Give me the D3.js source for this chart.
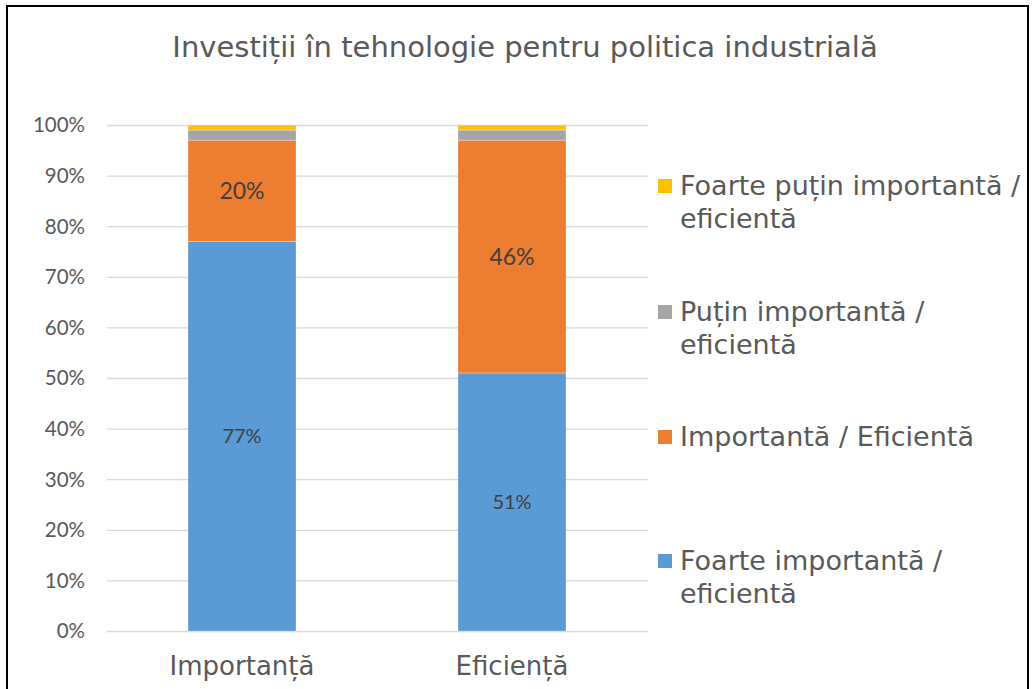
<!DOCTYPE html>
<html>
<head>
<meta charset="utf-8">
<script src="https://cdn.jsdelivr.net/npm/d3@7"></script>
<style>
  html, body { margin: 0; padding: 0; background: #fff; }
  svg { display: block; }
</style>
</head>
<body>
<svg id="chart" width="1032" height="689"></svg>
<script>
// Categories along the x axis
const categories = ["Importanță", "Eficiență"];

// Series values (percent), bottom of the stack first
const foarteImportanta = [77, 51];
const importanta       = [20, 46];
const putinImportanta  = [2, 2];
const foartePutin      = [1, 1];

// Series names as shown in the legend (each entry may wrap onto two lines)
const seriesKeys = ["foarteImportanta", "importanta", "putinImportanta", "foartePutin"];
const seriesLabels = [
  ["Foarte importantă /", "eficientă"],
  ["Importantă / Eficientă"],
  ["Puțin importantă /", "eficientă"],
  ["Foarte puțin importantă /", "eficientă"]
];
const seriesColors = ["#5B9BD5", "#ED7D31", "#A5A5A5", "#FFC000"];

// Which series carry data labels, with their font sizes
const labelSizes = { foarteImportanta: 20, importanta: 23 };

// Y axis tick values (percent)
const yTicks = [0, 10, 20, 30, 40, 50, 60, 70, 80, 90, 100];

const title = "Investiții în tehnologie pentru politica industrială";

// Build rows for the stack layout
const rows = categories.map((c, i) => ({
  category: c,
  foarteImportanta: foarteImportanta[i],
  importanta: importanta[i],
  putinImportanta: putinImportanta[i],
  foartePutin: foartePutin[i]
}));

const svg = d3.select("#chart");
const textColor = "#595959";
const tahomaLike = "'DejaVu Sans', sans-serif";
const calibriLike = "Lato, 'Open Sans', sans-serif";

// Outer frame
svg.append("path")
  .attr("d", "M7,689 V6 H1028 V689")
  .attr("fill", "none")
  .attr("stroke", "#000")
  .attr("stroke-width", 2);

const plot = { left: 107, right: 647, top: 125, bottom: 631 };

const x = d3.scaleBand()
  .domain(categories)
  .range([plot.left, plot.right])
  .paddingInner(0.6)
  .paddingOuter(0.3);

const y = d3.scaleLinear()
  .domain([0, 100])
  .range([plot.bottom, plot.top]);

// Gridlines + y tick labels
const yAxis = d3.axisLeft(y)
  .tickValues(yTicks)
  .tickSize(-(plot.right - plot.left + 1))
  .tickPadding(22)
  .tickFormat(d => d + "%");

const gy = svg.append("g")
  .attr("transform", `translate(${plot.left},0)`)
  .call(yAxis);
gy.select(".domain").remove();
gy.selectAll(".tick line")
  .attr("stroke", "#D9D9D9")
  .attr("stroke-width", 1.3)
  .attr("x1", 0)
  .attr("x2", plot.right - plot.left + 1);
gy.selectAll(".tick text")
  .attr("fill", textColor)
  .attr("font-family", calibriLike)
  .attr("font-size", 20.5)
  .attr("dy", "0.34em");

// Stacked bars
const stack = d3.stack().keys(seriesKeys);
const layers = stack(rows);

const layerG = svg.append("g")
  .selectAll("g")
  .data(layers)
  .join("g")
  .attr("fill", (d, i) => seriesColors[i]);

layerG.selectAll("rect")
  .data(d => d.map(s => ({ s, key: d.key })))
  .join("rect")
  .attr("x", d => x(d.s.data.category))
  .attr("width", x.bandwidth())
  .attr("y", d => y(d.s[1]))
  .attr("height", d => y(d.s[0]) - y(d.s[1]))
  .attr("stroke", "#fff")
  .attr("stroke-opacity", 0.35)
  .attr("stroke-width", 0.8);

// Data labels centred in their segments
layers.forEach(layer => {
  const size = labelSizes[layer.key];
  if (!size) return;
  svg.append("g")
    .selectAll("text")
    .data(layer)
    .join("text")
    .attr("x", s => x(s.data.category) + x.bandwidth() / 2)
    .attr("y", s => y((s[0] + s[1]) / 2))
    .attr("dy", "0.36em")
    .attr("text-anchor", "middle")
    .attr("font-family", calibriLike)
    .attr("font-size", size)
    .attr("fill", "#404040")
    .text(s => (s[1] - s[0]) + "%");
});

// Category labels
const gx = svg.append("g")
  .attr("transform", `translate(0,${plot.bottom})`)
  .call(d3.axisBottom(x).tickSize(0).tickPadding(0));
gx.select(".domain").remove();
gx.selectAll(".tick text")
  .attr("fill", textColor)
  .attr("font-family", tahomaLike)
  .attr("font-size", 26)
  .attr("dy", "1.69em");

// Title
svg.append("text")
  .attr("x", 525)
  .attr("y", 57)
  .attr("text-anchor", "middle")
  .attr("font-family", tahomaLike)
  .attr("font-size", 29)
  .attr("fill", textColor)
  .text(title);

// Legend, top entry is the last series
const legendCenters = [561, 437, 312, 186];
const legend = svg.append("g");
seriesKeys.forEach((k, i) => {
  const cy = legendCenters[i];
  legend.append("rect")
    .attr("x", 658)
    .attr("y", cy - 7)
    .attr("width", 14)
    .attr("height", 14)
    .attr("fill", seriesColors[i]);
  const t = legend.append("text")
    .attr("font-family", tahomaLike)
    .attr("font-size", 27)
    .attr("fill", textColor);
  seriesLabels[i].forEach((line, j) => {
    t.append("tspan")
      .attr("x", 680)
      .attr("y", cy + 9 + j * 33)
      .text(line);
  });
});
</script>
</body>
</html>
